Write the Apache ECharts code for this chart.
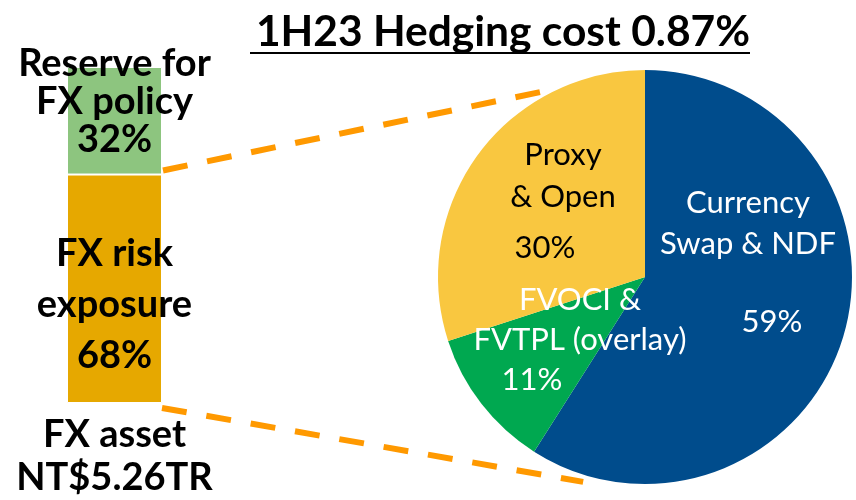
<!DOCTYPE html>
<html>
<head>
<meta charset="utf-8">
<script src="https://cdn.jsdelivr.net/npm/echarts@6/dist/echarts.min.js"></script>
<style>
  html, body { margin: 0; padding: 0; background: #ffffff; }
  #chart { width: 856px; height: 500px; }
</style>
</head>
<body>
<div id="chart"></div>
<script>
// Chart text and values
const titleText = '1H23 Hedging cost 0.87%';
const assetCategory = ['FX asset\nNT$5.26TR'];
const barNames = ['FX risk\nexposure', 'Reserve for\nFX policy'];
const barValues = [68, 32];
const pieNames = ['Currency\nSwap & NDF', 'FVOCI &\nFVTPL (overlay)', 'Proxy\n& Open'];
const pieValues = [59, 11, 30];

const FONT = 'Lato, "Noto Sans", sans-serif';
const barColors = ['#E6A800', '#8DC57F'];
const pieColors = ['#004C8C', '#00A850', '#F9C740'];
const pieTextColors = ['#ffffff', '#ffffff', '#000000'];

const PIE_CENTER = [645, 277];
const PIE_RADIUS = 207;

const chart = echarts.init(document.getElementById('chart'), null, { renderer: 'canvas' });

// label blocks for the bar segments
const barLabelCfg = [
  { lh: 51, offset: [0, 16] },
  { lh: 38, offset: [0, -19] }
];

const barSeries = barValues.map((v, i) => ({
  type: 'bar',
  stack: 'asset',
  barWidth: '100%',
  data: [{ value: v, name: barNames[i] }],
  itemStyle: { color: barColors[i], borderColor: '#ffffff', borderWidth: 1 },
  label: {
    show: true,
    position: 'inside',
    offset: barLabelCfg[i].offset,
    formatter: () => barNames[i] + '\n' + v + '%',
    fontFamily: FONT,
    fontWeight: 'bold',
    fontSize: 38,
    lineHeight: barLabelCfg[i].lh,
    color: '#000000',
    overflow: 'none'
  },
  emphasis: { disabled: true },
  silent: true
}));

// pie label placement: block centre, and per-line layout of the percentage
const pieLabelLayout = [
  { x: 748, y: 281, lh: 41, pctLh: 115, pctPad: [0, 0, 0, 48] },
  { x: 580, y: 340, lh: 40, pctLh: 40, pctPad: [0, 96, 0, 0] },
  { x: 563, y: 206, lh: 42, pctLh: 60, pctPad: [0, 36, 0, 0] }
];

const pieData = pieValues.map((v, i) => {
  const cfg = pieLabelLayout[i];
  return {
    value: v,
    name: pieNames[i],
    itemStyle: { color: pieColors[i] },
    label: {
      formatter: () => pieNames[i].split('\n').map(s => '{t|' + s + '}').join('\n') + '\n{p|' + v + '%}',
      rich: {
        t: { fontFamily: FONT, fontSize: 31, lineHeight: cfg.lh, color: pieTextColors[i] },
        p: { fontFamily: FONT, fontSize: 31, lineHeight: cfg.pctLh, color: pieTextColors[i], padding: cfg.pctPad }
      }
    }
  };
});

chart.setOption({
  backgroundColor: '#ffffff',
  animation: false,
  title: {
    text: titleText,
    left: 498,
    top: 27,
    textAlign: 'center',
    textVerticalAlign: 'middle',
    textStyle: { fontFamily: FONT, fontWeight: 'bold', fontSize: 42.5, color: '#000000' }
  },
  grid: { left: 67, top: 67, width: 95, height: 336 },
  xAxis: {
    type: 'category',
    data: assetCategory,
    axisLine: { show: false },
    axisTick: { show: false },
    axisLabel: {
      margin: 10,
      fontFamily: FONT,
      fontWeight: 'bold',
      fontSize: 38,
      lineHeight: 43,
      color: '#000000'
    }
  },
  yAxis: { type: 'value', min: 0, max: 100, show: false },
  series: barSeries.concat([{
    type: 'pie',
    center: PIE_CENTER,
    radius: PIE_RADIUS,
    startAngle: 90,
    clockwise: true,
    silent: true,
    label: { show: true, position: 'inside', align: 'center' },
    labelLine: { show: false },
    labelLayout: (params) => {
      const cfg = pieLabelLayout[params.dataIndex];
      return { x: cfg.x, y: cfg.y, align: 'center', verticalAlign: 'middle' };
    },
    itemStyle: { borderWidth: 0 },
    data: pieData
  }])
});

// connector lines from the bar segment to the pie, plus the title underline
function pointOnPie(degFromTop, extra) {
  const a = degFromTop * Math.PI / 180;
  const r = PIE_RADIUS + extra;
  return [PIE_CENTER[0] + r * Math.sin(a), PIE_CENTER[1] - r * Math.cos(a)];
}
const boundaryPt = chart.convertToPixel({ gridIndex: 0 }, [0, barValues[0]]);
const bottomPt = chart.convertToPixel({ gridIndex: 0 }, [0, 0]);
const barRight = boundaryPt[0] + 95 / 2;
const topEnd = pointOnPie(333.8, 2);
const botEnd = pointOnPie(196.8, 7);
const dashStyle = { stroke: '#FF9900', lineWidth: 6, lineDash: [25, 20] };

chart.setOption({
  graphic: [
    { type: 'line', silent: true, shape: { x1: barRight + 1, y1: boundaryPt[1] - 4, x2: topEnd[0], y2: topEnd[1] }, style: dashStyle },
    { type: 'line', silent: true, shape: { x1: barRight, y1: bottomPt[1] + 5, x2: botEnd[0], y2: botEnd[1] }, style: dashStyle },
    { type: 'line', silent: true, shape: { x1: 250, y1: 53, x2: 750, y2: 53 }, style: { stroke: '#000000', lineWidth: 2 } }
  ]
});
</script>
</body>
</html>
